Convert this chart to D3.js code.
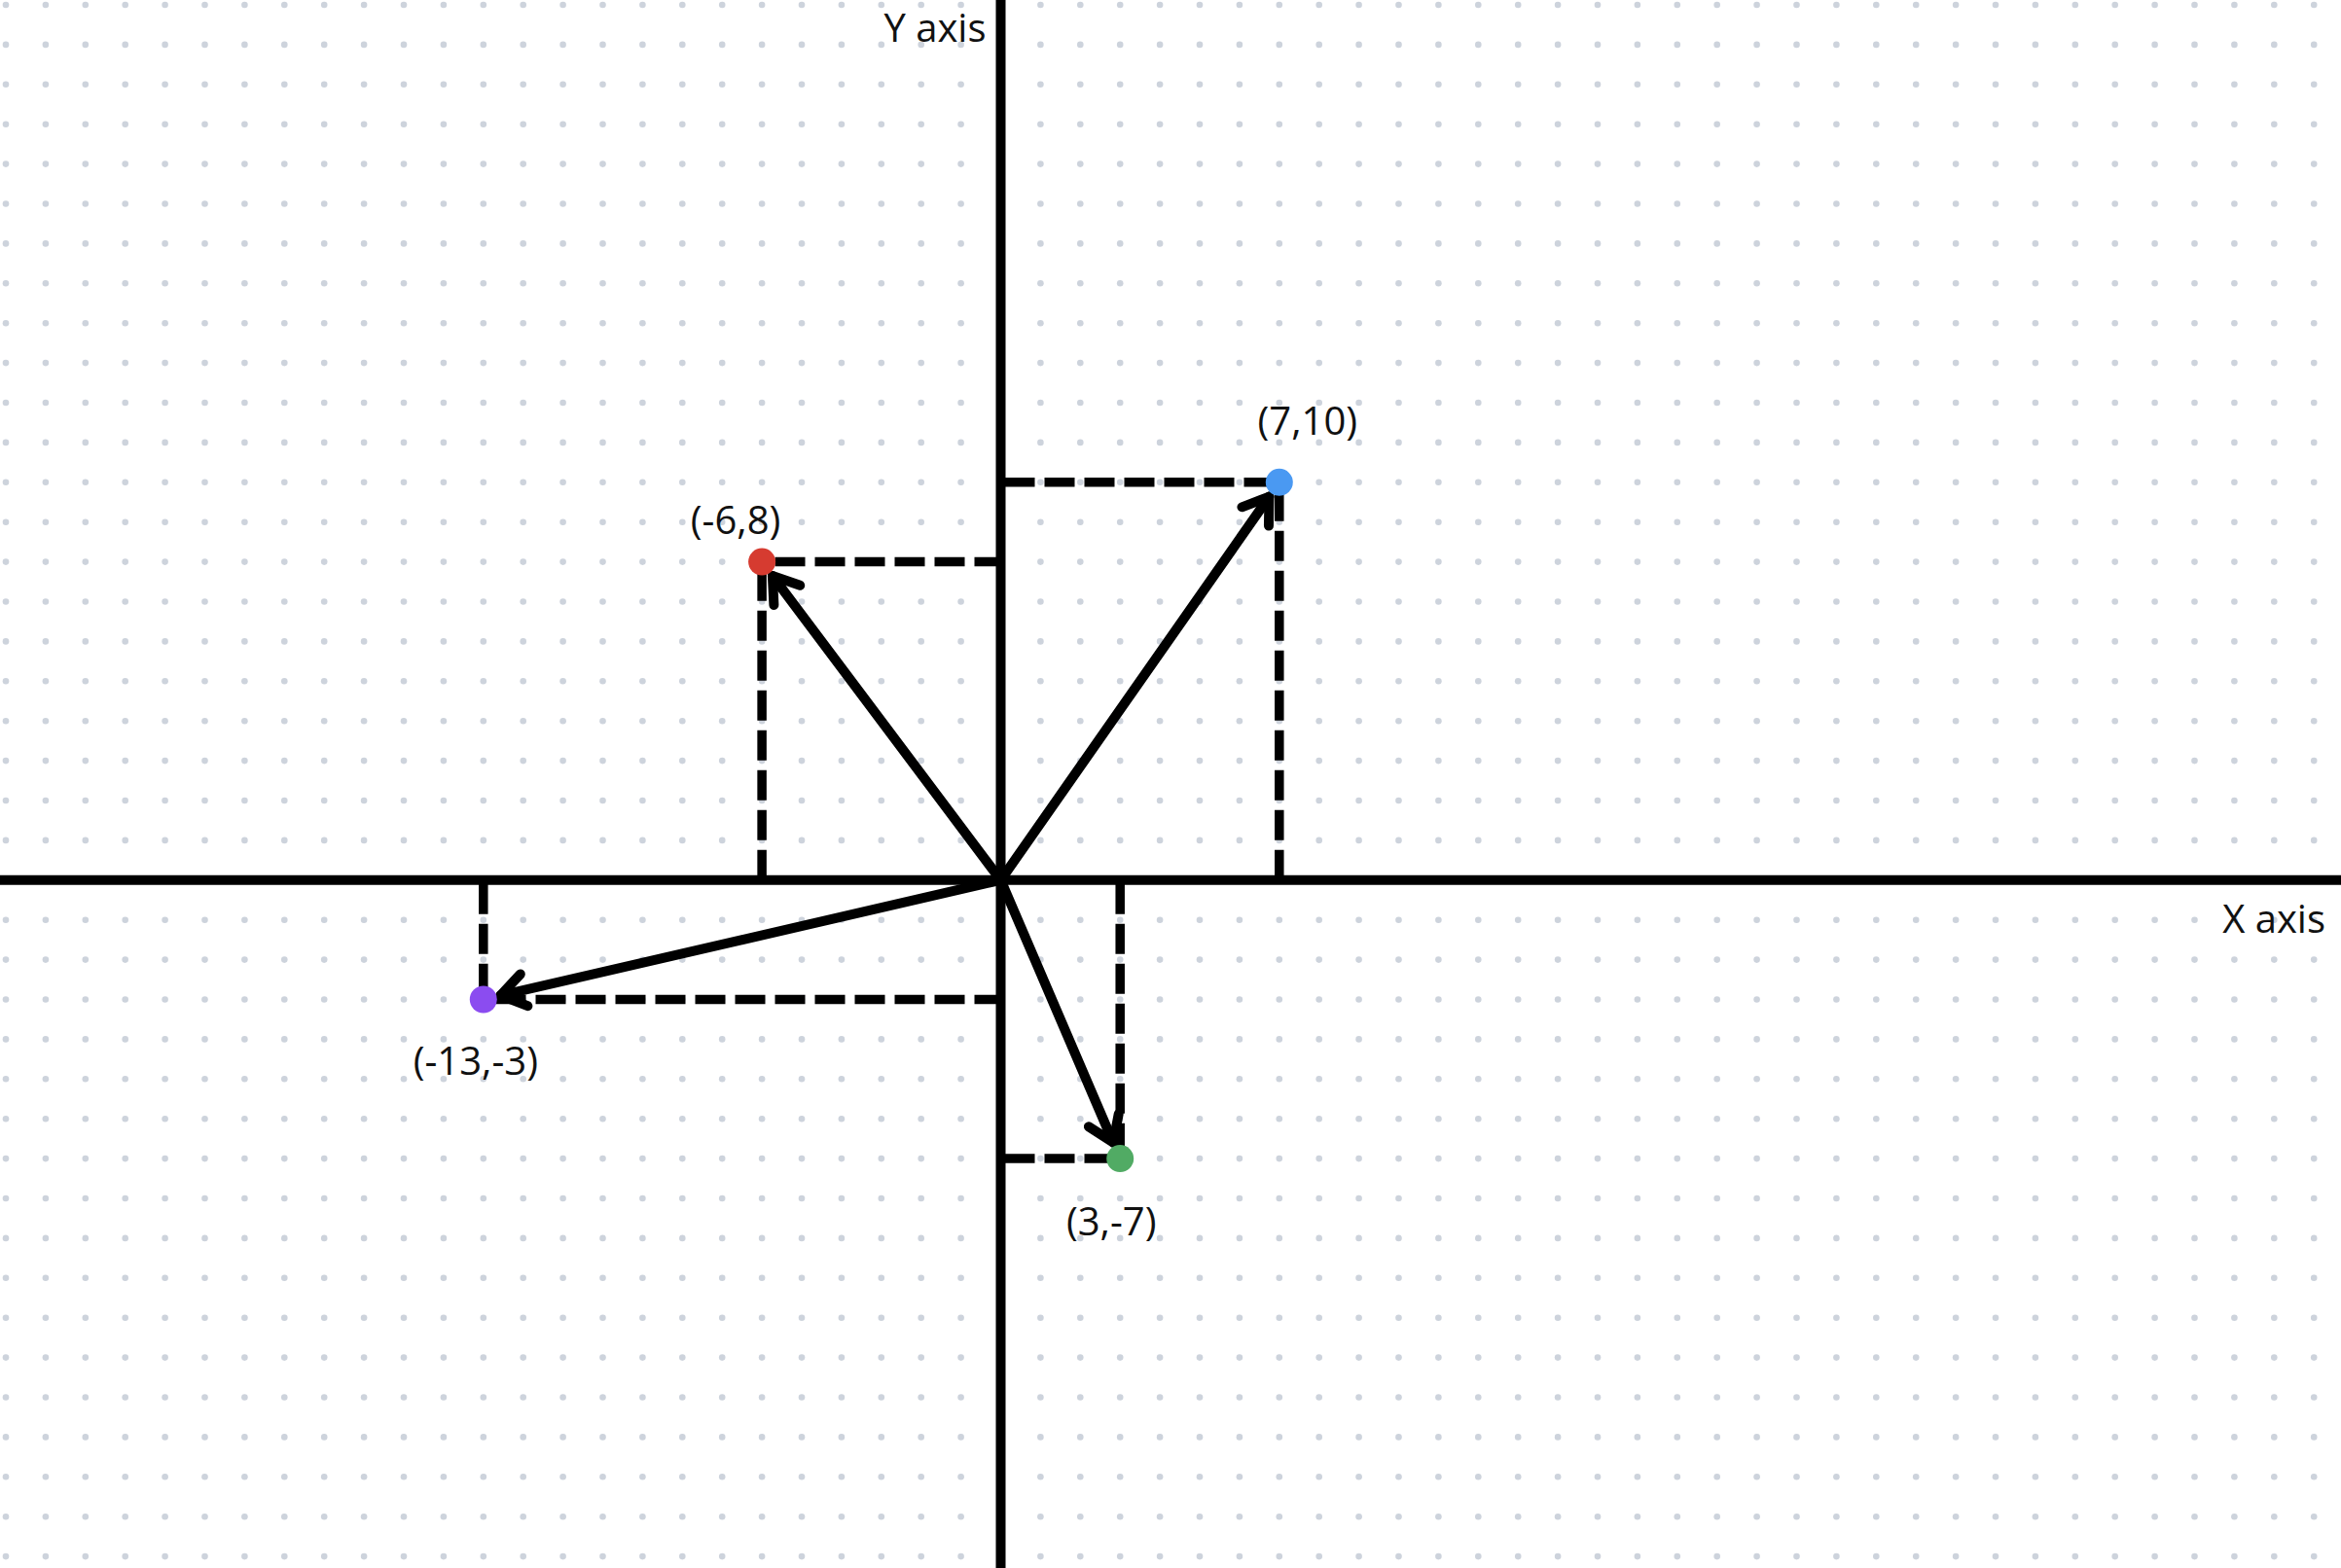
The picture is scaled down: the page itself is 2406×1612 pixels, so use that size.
<!DOCTYPE html>
<html>
<head>
<meta charset="utf-8">
<script src="https://cdn.jsdelivr.net/npm/d3@7"></script>
<style>
  html, body { margin: 0; padding: 0; background: #ffffff; }
  svg { display: block; }
  text { font-family: "Open Sans", "Noto Sans", sans-serif; fill: #111; }
</style>
</head>
<body>
<script>
// ---- data ----
const pointLabels = ["(7,10)", "(-6,8)", "(-13,-3)", "(3,-7)"];
const pointX = [7, -6, -13, 3];
const pointY = [10, 8, -3, -7];
const pointColors = ["#4a99f2", "#d63b30", "#8b4cf0", "#51ab64"];
const axisLabels = ["X axis", "Y axis"];
const gridX = d3.range(-25, 34);   // dotted grid columns (data units)
const gridY = d3.range(-17, 23);   // dotted grid rows (data units)

// ---- layout ----
const W = 2406, H = 1612;
const step = 40.9;
const x = d3.scaleLinear().domain([-25, 33]).range([6, 6 + 58 * step]);
const y = d3.scaleLinear().domain([22, -17]).range([5, 5 + 39 * step]);
// label offsets (pixels) relative to each point
const labelDx = [29, -27, -8, -9];
const labelDy = [-49, -29, 77, 79];

const svg = d3.select("body").append("svg")
  .attr("width", W).attr("height", H);

svg.append("rect").attr("width", W).attr("height", H).attr("fill", "#ffffff");

// dotted grid
const gridG = svg.append("g");
gridY.forEach(gy => {
  gridG.selectAll(null).data(gridX).enter().append("circle")
    .attr("cx", d => x(d)).attr("cy", y(gy)).attr("r", 3.3)
    .attr("fill", "#cdd3dc");
});

const pts = pointX.map((px, i) => ({ x: px, y: pointY[i], label: pointLabels[i], color: pointColors[i], i }));

// dashed projection lines
const dashG = svg.append("g")
  .attr("stroke", "#000").attr("stroke-width", 9.5)
  .attr("stroke-dasharray", "31,10").attr("fill", "none");
pts.forEach(p => {
  // horizontal: from y axis to point
  dashG.append("line")
    .attr("x1", x(0) + 4).attr("y1", y(p.y))
    .attr("x2", x(p.x)).attr("y2", y(p.y));
  // vertical: from x axis to point
  dashG.append("line")
    .attr("x1", x(p.x)).attr("y1", y(0) + (p.y > 0 ? 0 : 4))
    .attr("x2", x(p.x)).attr("y2", y(p.y));
});

// axes lines
svg.append("line")
  .attr("x1", 0).attr("x2", W).attr("y1", y(0)).attr("y2", y(0))
  .attr("stroke", "#000").attr("stroke-width", 10);
svg.append("line")
  .attr("x1", x(0)).attr("x2", x(0)).attr("y1", 0).attr("y2", H)
  .attr("stroke", "#000").attr("stroke-width", 10);

// axis labels
svg.append("text").attr("x", 2390).attr("y", 959)
  .attr("text-anchor", "end").attr("font-size", 40).text(axisLabels[0]);
svg.append("text").attr("x", x(0) - 15).attr("y", 43)
  .attr("text-anchor", "end").attr("font-size", 40).text(axisLabels[1]);

// vectors with open arrowheads
const arrowG = svg.append("g")
  .attr("stroke", "#000").attr("stroke-width", 10)
  .attr("stroke-linecap", "round").attr("stroke-linejoin", "round")
  .attr("fill", "none");
const ox = x(0), oy = y(0);
pts.forEach(p => {
  const px = x(p.x), py = y(p.y);
  const dx = px - ox, dy = py - oy;
  const len = Math.hypot(dx, dy);
  const ux = dx / len, uy = dy / len;
  const tipX = px - ux * 18, tipY = py - uy * 18;
  arrowG.append("line")
    .attr("x1", ox).attr("y1", oy).attr("x2", tipX).attr("y2", tipY);
  const ang = Math.atan2(-uy, -ux);
  const a = 34 * Math.PI / 180, L = 30;
  const path = d3.path();
  path.moveTo(tipX + L * Math.cos(ang + a), tipY + L * Math.sin(ang + a));
  path.lineTo(tipX, tipY);
  path.lineTo(tipX + L * Math.cos(ang - a), tipY + L * Math.sin(ang - a));
  arrowG.append("path").attr("d", path.toString());
});

// points
svg.append("g").selectAll("circle").data(pts).enter().append("circle")
  .attr("cx", d => x(d.x)).attr("cy", d => y(d.y)).attr("r", 14)
  .attr("fill", d => d.color);

// point labels
svg.append("g").selectAll("text").data(pts).enter().append("text")
  .attr("x", d => x(d.x) + labelDx[d.i])
  .attr("y", d => y(d.y) + labelDy[d.i])
  .attr("text-anchor", "middle").attr("font-size", 40)
  .text(d => d.label);
</script>
</body>
</html>
